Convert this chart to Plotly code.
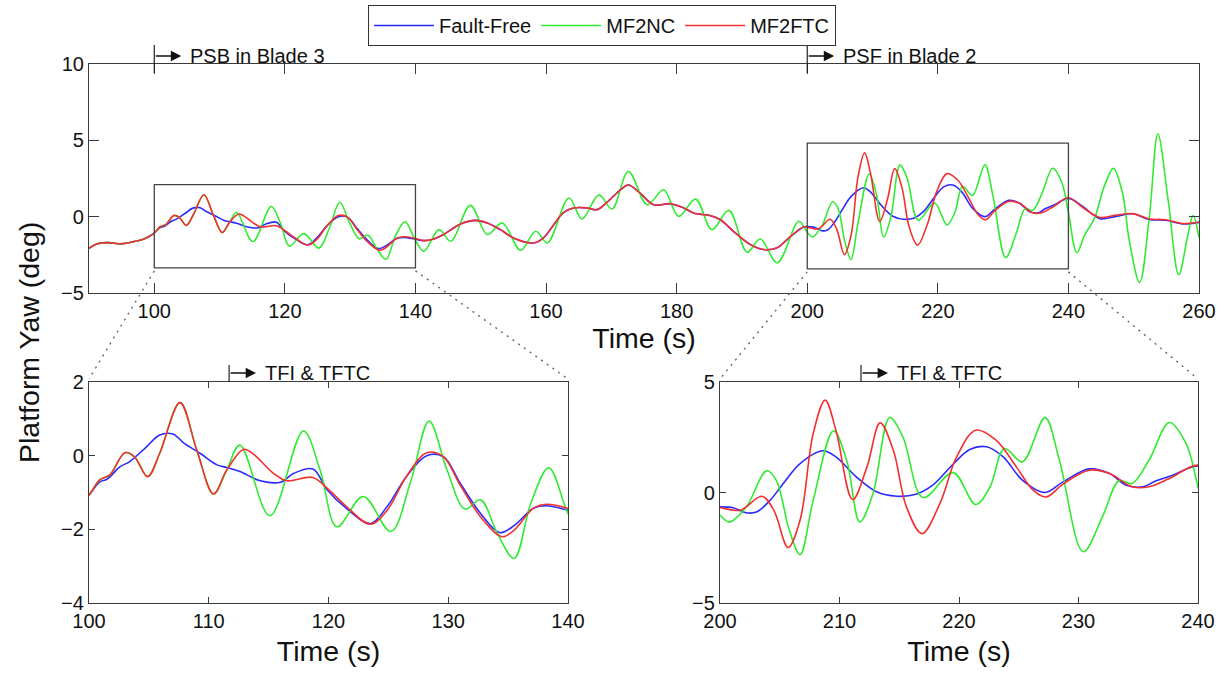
import plotly.graph_objects as go

W, H = 1228, 673

# ---------------- data ----------------
t_fault_free = [90, 91.3, 92.9, 94.9, 96.4, 98.2, 99.2,
                100, 100.9, 101.5, 102.6, 103.4, 104.8, 105.9, 107.0, 107.9, 109.3, 110.7, 111.5,
                112.6, 114.3, 116.0, 117.1, 118.7, 119.9, 121.5, 123.5, 124.9, 126.5, 128.2, 129.6,
                131.0, 132.7, 134.3, 135.5, 137.1, 138.2, 140,
                141.3, 142.8, 144.3, 146.9, 149.2, 151, 153, 155, 158.1, 159.6, 161.2, 162.7, 164.2,
                166.3, 167.8, 169.3, 171.4, 172.6, 174.4, 176.5, 179.0, 181.1, 182.6, 185.1, 186.7,
                188.7, 191.3, 193.3, 195.4, 196.9, 199.4,
                200, 201.1, 202.2, 203.1, 204.2, 205.3, 206.7, 208.6, 209.7, 211.4, 213.1, 214.8,
                216.4, 217.8, 219.5, 220.9, 222.3, 223.7, 225.3, 227.2, 228.7, 230.9, 232.6, 234.0,
                235.4, 236.5, 237.9, 240,
                242.2, 244.8, 247.3, 249.8, 252.4, 254.9, 257.5, 260]
y_fault_free = [-2.07, -1.78, -1.70, -1.78, -1.68, -1.50, -1.30,
                -1.07, -0.71, -0.64, -0.30, -0.16, 0.24, 0.56, 0.59, 0.35, 0.06, -0.25, -0.32,
                -0.43, -0.68, -0.72, -0.48, -0.36, -0.93, -1.43, -1.84, -1.38, -0.57, 0.0, -0.03,
                -0.75, -1.57, -2.09, -1.90, -1.43, -1.36, -1.48,
                -1.57, -1.46, -1.17, -0.48, -0.24, -0.41, -0.85, -1.39, -1.72, -1.39, -0.52, 0.28, 0.57,
                0.57, 0.46, 0.93, 1.76, 2.07, 1.54, 0.78, 0.85, 0.57, 0.24, 0.07, -0.20,
                -0.96, -1.83, -2.15, -2.04, -1.50, -0.67,
                -0.65, -0.69, -0.92, -0.87, -0.35, 0.41, 1.31, 1.89, 1.61, 0.71, 0.03, -0.17,
                -0.08, 0.33, 1.28, 1.95, 2.07, 1.61, 0.56, 0.0, 0.48, 1.07, 0.86, 0.33,
                0.26, 0.53, 0.78, 1.20,
                0.67, -0.13, 0.02, 0.19, -0.19, -0.24, -0.48, -0.37]

t_mf2nc = [90, 91.3, 92.9, 94.9, 96.4, 98.2, 99.2,
           100, 100.9, 101.75, 103.0, 103.8, 104.9, 105.9, 107.6, 109.0, 110.4, 111.5,
           112.6, 115.1, 117.9, 119.3, 120.7, 122.9, 125.2, 126.9, 128.4, 129.9, 131.4, 132.7,
           134.1, 135.5, 136.9, 138.4, 140,
           141.3, 143.6, 145.4, 148.4, 151, 153.3, 156.1, 158.4, 160.2, 163.5, 165.5, 168.1,
           170.1, 172.6, 175.5, 178.0, 180.3, 182.9, 185.4, 188.0, 190.8, 192.8, 195.4, 198.7,
           200, 200.8, 202.2, 203.9, 204.7, 205.8, 206.7, 207.8, 209.5, 210.6, 211.7, 212.8,
           214.2, 215.3, 217.0, 219.5, 221.4, 222.6, 223.8, 225.3, 227.2, 228.4, 230.4, 232.0,
           233.4, 234.5, 235.9, 237.6, 239.0, 240,
           241.3, 242.5, 244.0, 245.5, 246.9, 248.3, 249.3, 250.9, 252.4, 253.7, 255.3, 256.9,
           258.3, 259.1, 260]
y_mf2nc = [-2.07, -1.78, -1.70, -1.78, -1.68, -1.50, -1.30,
           -1.07, -0.66, -0.52, 0.08, -0.03, -0.57, 0.06, 1.44, 0.15, -1.04, -0.39,
           0.29, -1.63, 0.67, -0.39, -1.93, -1.11, -2.06, -0.66, 0.94, -0.39, -1.45, -1.20,
           -2.11, -2.79, -1.29, -0.33, -1.57,
           -2.26, -0.85, -1.61, 0.74, -1.17, -0.41, -2.20, -0.96, -1.72, 1.22, -0.15, 1.43,
           0.50, 2.96, 0.78, 1.76, 0.02, 1.15, -0.85, 0.41, -2.33, -1.46, -3.02, -0.30,
           -1.03, -1.33, -0.65, 0.98, 0.56, -1.70, -2.81, -0.35, 2.79, 1.46, -1.33, -0.05,
           3.39, 2.52, -0.23, 0.90, -0.54, 0.26, 1.99, 1.39, 3.39, 1.46, -2.68, -1.10,
           0.53, 0.41, 1.46, 3.17, 2.22, 0.26,
           -2.36, -1.20, -0.10, 2.00, 3.16, 1.50, -1.50, -4.31, 0.00, 5.43, 1.00, -3.79,
           -1.20, 0.07, -1.37]

t_mf2ftc = [90, 91.3, 92.9, 94.9, 96.4, 98.2, 99.2,
            100, 100.9, 101.75, 103.0, 103.8, 104.9, 105.9, 107.6, 109.0, 110.4, 111.5,
            112.9, 113.7, 115.4, 116.5, 118.7, 119.9, 121.5, 123.5, 124.9, 126.5, 128.2, 129.6,
            131.0, 132.7, 134.5, 135.5, 137.1, 138.2, 140,
            141.3, 142.8, 144.3, 146.9, 149.2, 151, 153, 155, 158.1, 159.6, 161.2, 162.7, 164.2,
            166.3, 167.8, 169.3, 171.4, 172.6, 174.4, 176.5, 179.0, 181.1, 182.6, 185.1, 186.7,
            188.7, 191.3, 193.3, 195.4, 196.9, 199.4,
            200, 201.7, 203.5, 204.5, 205.7, 206.7, 207.8, 208.8, 209.7, 211.1, 212.3, 213.4,
            214.5, 215.6, 216.9, 218.4, 219.8, 221.4, 223.1, 224.8, 226.2, 227.3, 228.7, 230.9,
            232.6, 234.5, 235.9, 237.6, 240,
            242.2, 244.8, 247.3, 249.8, 252.4, 254.9, 257.5, 260]
y_mf2ftc = [-2.07, -1.78, -1.70, -1.78, -1.68, -1.50, -1.30,
            -1.07, -0.66, -0.52, 0.08, -0.03, -0.57, 0.06, 1.44, 0.15, -1.04, -0.39,
            0.17, 0.05, -0.48, -0.68, -0.59, -0.89, -1.38, -1.86, -1.48, -0.57, 0.08, -0.03,
            -0.80, -1.66, -2.20, -2.02, -1.43, -1.32, -1.43,
            -1.57, -1.46, -1.17, -0.48, -0.24, -0.41, -0.85, -1.39, -1.72, -1.39, -0.52, 0.28, 0.57,
            0.57, 0.46, 0.93, 1.76, 2.07, 1.54, 0.78, 0.85, 0.57, 0.24, 0.07, -0.20,
            -0.96, -1.83, -2.15, -2.04, -1.50, -0.67,
            -0.69, -0.80, -0.17, -0.80, -2.49, -1.25, 2.67, 4.18, 2.82, -0.32, 1.16, 3.15,
            1.92, -0.65, -1.86, -0.50, 1.61, 2.82, 2.37, 1.16, 0.11, -0.20, 0.38, 1.01,
            0.86, 0.26, 0.26, 0.63, 1.24,
            0.60, -0.05, 0.10, 0.20, -0.15, -0.20, -0.45, -0.35]

series_names = ["Fault-Free", "MF2NC", "MF2FTC"]
series_colors = ["#2b2bff", "#33ea33", "#f23030"]

# zoom windows drawn on the top plot: (t0, t1, y0, y1)
zoom_windows = [(100, 140, -3.35, 2.1), (200, 240, -3.42, 4.82)]

# event markers: (axis suffix, time, label)
events = [("", 100, "PSB in Blade 3"), ("", 200, "PSF in Blade 2"),
          ("2", 111.7, "TFI &amp; TFTC"), ("3", 211.8, "TFI &amp; TFTC")]

# ---------------- layout geometry ----------------
top_x = [89 / W, 1199 / W]
top_y = [1 - 293 / H, 1 - 64 / H]
bl_x = [89 / W, 568 / W]
br_x = [720 / W, 1198 / W]
bot_y = [1 - 603 / H, 1 - 382 / H]
top_xr, top_yr = [90, 260], [-5, 10]

FONT = "Liberation Sans, Arial, Helvetica, sans-serif"
AXC = "#3a3a3a"
SMALL = 20
BIG = 28.5

fig = go.Figure()

data = [(t_fault_free, y_fault_free), (t_mf2nc, y_mf2nc), (t_mf2ftc, y_mf2ftc)]
for suffix in ["", "2", "3"]:
    for i, (tt, yy) in enumerate(data):
        fig.add_trace(go.Scatter(
            x=tt, y=yy, mode="lines", name=series_names[i],
            line=dict(color=series_colors[i], width=1.6, shape="spline", smoothing=1.0),
            xaxis="x" + suffix, yaxis="y" + suffix,
            showlegend=(suffix == ""), hoverinfo="skip"))


def axis(rng, dtick, tick0, dom, anchor, ticklen, title=None, standoff=0):
    d = dict(range=rng, dtick=dtick, tick0=tick0, domain=dom, anchor=anchor,
             automargin=False,
             showline=True, linecolor=AXC, linewidth=1.2, mirror="ticks",
             ticks="inside", ticklen=ticklen, tickwidth=1.2, tickcolor=AXC,
             showgrid=False, zeroline=False,
             tickfont=dict(size=SMALL, color="#111", family=FONT))
    if title:
        d["title"] = dict(text=title, font=dict(size=BIG, color="#111", family=FONT),
                          standoff=standoff)
    return d


fig.update_layout(
    width=W, height=H,
    margin=dict(l=0, r=0, t=0, b=0, autoexpand=False),
    paper_bgcolor="white", plot_bgcolor="white",
    font=dict(family=FONT, color="#111"),
    xaxis=axis(top_xr, 20, 100, top_x, "y", 10, "Time (s)", 4),
    yaxis=axis(top_yr, 5, 0, top_y, "x", 10),
    xaxis2=axis([100, 140], 10, 100, bl_x, "y2", 6, "Time (s)", 9),
    yaxis2=axis([-4, 2], 2, 0, bot_y, "x2", 6),
    xaxis3=axis([200, 240], 10, 200, br_x, "y3", 6, "Time (s)", 9),
    yaxis3=axis([-5, 5], 5, 0, bot_y, "x3", 6),
    legend=dict(orientation="h", x=602 / W, xanchor="center", y=1 - 5 / H, yanchor="top",
                bordercolor="#333", borderwidth=1, bgcolor="white",
                font=dict(size=SMALL, family=FONT, color="#111"),
                itemwidth=60, tracegroupgap=0),
    showlegend=True,
)

shapes = []
annotations = []

# zoom rectangles on the top plot
for (t0, t1, v0, v1) in zoom_windows:
    shapes.append(dict(type="rect", xref="x", yref="y", x0=t0, x1=t1, y0=v0, y1=v1,
                       line=dict(color="#444", width=1.3), fillcolor="rgba(0,0,0,0)"))


def to_paper(t, v):
    px = top_x[0] + (t - top_xr[0]) / (top_xr[1] - top_xr[0]) * (top_x[1] - top_x[0])
    py = top_y[0] + (v - top_yr[0]) / (top_yr[1] - top_yr[0]) * (top_y[1] - top_y[0])
    return px, py


# dotted connectors from rectangles to zoomed panels
targets = [(bl_x, bot_y), (br_x, bot_y)]
for (t0, t1, v0, v1), (dx, dy) in zip(zoom_windows, targets):
    for tc, ex in [(t0, dx[0]), (t1, dx[1])]:
        sx, sy = to_paper(tc, v0)
        shapes.append(dict(type="line", xref="paper", yref="paper",
                           x0=sx, y0=sy - 3 / H, x1=ex, y1=dy[1] + 3 / H,
                           line=dict(color="#666", width=1.4, dash="2px,5px")))

# event markers: bar + arrow + label
for suffix, t, label in events:
    xr = "x" + suffix
    if suffix == "":
        ytop = top_y[1]
        bar0, bar1, ashift = -9, 19, 8
    else:
        ytop = bot_y[1]
        bar0, bar1, ashift = 0, 17, 9
    shapes.append(dict(type="line", xref=xr, yref="paper", x0=t, x1=t,
                       ysizemode="pixel", yanchor=ytop, y0=bar0, y1=bar1,
                       line=dict(color="#222", width=1.2)))
    annotations.append(dict(xref=xr, yref="paper", x=t, y=ytop, text="", showarrow=True,
                            ax=-27, ay=0, xshift=27, yshift=ashift,
                            arrowhead=2, arrowsize=1.6, arrowwidth=1.3, arrowcolor="#111"))
    annotations.append(dict(xref=xr, yref="paper", x=t, y=ytop, text=label, showarrow=False,
                            xanchor="left", yanchor="middle", xshift=34, yshift=ashift,
                            font=dict(size=SMALL, family=FONT, color="#111")))

# shared y-axis title
annotations.append(dict(xref="paper", yref="paper", x=29 / W, y=1 - 343 / H,
                        text="Platform Yaw (deg)", textangle=-90, showarrow=False,
                        xanchor="center", yanchor="middle",
                        font=dict(size=BIG, family=FONT, color="#111")))

fig.update_layout(shapes=shapes, annotations=annotations)
fig.write_html("out.html")
